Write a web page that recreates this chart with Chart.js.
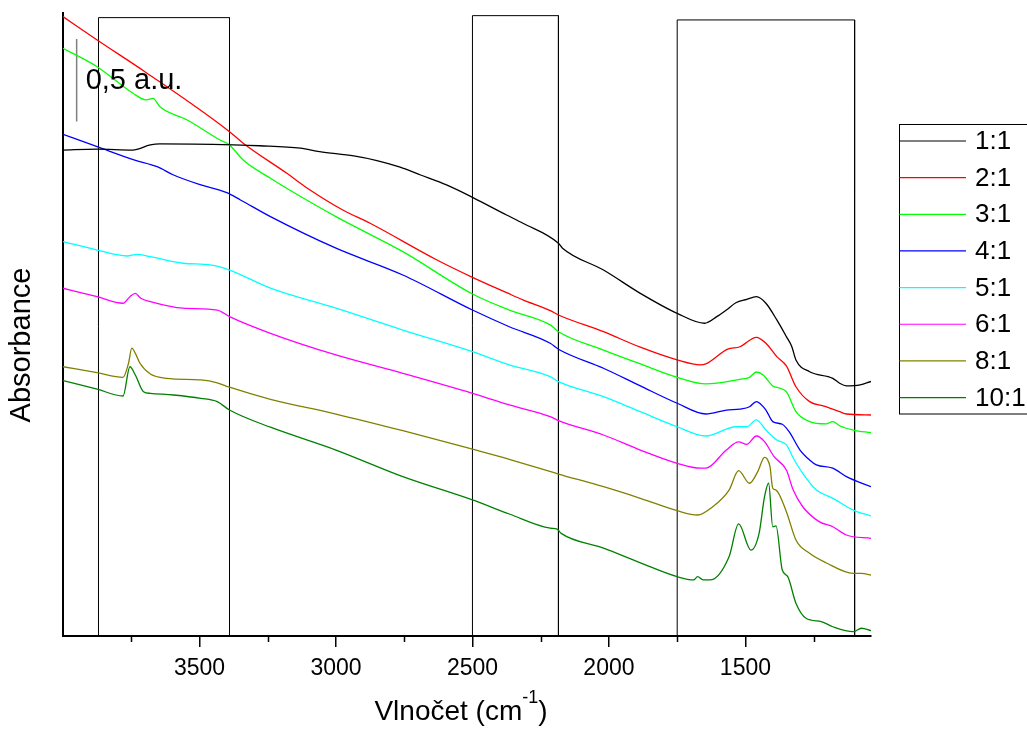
<!DOCTYPE html>
<html>
<head>
<meta charset="utf-8">
<title>IR spektra</title>
<script src="https://cdn.jsdelivr.net/npm/chart.js@4.4.0/dist/chart.umd.min.js"></script>
<style>
  html, body { margin: 0; padding: 0; background: #fff; }
</style>
</head>
<body>
<canvas id="irChart" width="1027" height="731"></canvas>
<script>
// wavenumbers (cm-1) and absorbance, one pair of arrays per sample
const wn_1_1 = [4000,3875,3745,3680,3645,3375,3280,3130,3060,2935,2850,2765,2690,2595,2500,2375,2315,2185,2170,2020,1885,1750,1650,1605,1570,1535,1495,1460,1425,1385,1350,1330,1315,1265,1180,1155,1130,1080,1040];
const abs_1_1 = [2.940,2.946,2.940,2.971,2.977,2.971,2.966,2.951,2.930,2.904,2.876,2.836,2.789,2.729,2.654,2.547,2.497,2.376,2.346,2.214,2.073,1.952,1.892,1.932,1.972,2.016,2.037,2.053,2.013,1.912,1.811,1.750,1.670,1.599,1.559,1.529,1.513,1.519,1.540];

const wn_2_1 = [4000,3875,3700,3390,3340,3180,3095,2975,2875,2630,2500,2375,2315,2215,2185,2020,1885,1750,1665,1645,1565,1520,1460,1425,1385,1350,1315,1265,1215,1155,1130,1040];
const abs_2_1 = [3.747,3.606,3.414,3.051,2.981,2.799,2.698,2.577,2.497,2.275,2.170,2.077,2.033,1.968,1.942,1.841,1.747,1.670,1.640,1.646,1.735,1.750,1.807,1.771,1.690,1.634,1.508,1.418,1.392,1.357,1.343,1.337];

const wn_3_1 = [4000,3875,3745,3695,3670,3645,3545,3425,3390,3340,3240,3170,3000,2755,2500,2365,2215,2185,2020,1885,1750,1645,1520,1485,1460,1435,1400,1375,1350,1315,1265,1205,1180,1155,1105,1040];
const abs_3_1 = [3.556,3.444,3.285,3.243,3.252,3.202,3.122,3.001,2.971,2.880,2.769,2.698,2.537,2.325,2.069,1.972,1.882,1.841,1.730,1.646,1.565,1.525,1.553,1.565,1.597,1.579,1.513,1.499,1.478,1.357,1.297,1.283,1.297,1.272,1.246,1.230];

const wn_4_1 = [4000,3875,3740,3655,3595,3495,3400,3350,3240,3000,2755,2500,2365,2215,2185,2020,1885,1750,1645,1570,1520,1485,1460,1425,1400,1365,1340,1300,1265,1240,1180,1130,1040];
const abs_4_1 = [3.035,2.960,2.880,2.839,2.789,2.729,2.682,2.638,2.537,2.346,2.184,1.972,1.871,1.771,1.735,1.620,1.513,1.408,1.343,1.367,1.373,1.387,1.418,1.367,1.297,1.281,1.236,1.125,1.065,1.035,1.015,0.964,0.903];

const wn_5_1 = [4000,3875,3765,3730,3680,3560,3460,3390,3240,3000,2755,2500,2365,2215,2185,2020,1885,1750,1645,1535,1495,1460,1425,1385,1350,1325,1290,1240,1180,1105,1040];
const abs_5_1 = [2.386,2.335,2.299,2.309,2.295,2.255,2.245,2.214,2.104,1.983,1.851,1.720,1.640,1.569,1.539,1.448,1.357,1.266,1.210,1.266,1.266,1.307,1.246,1.186,1.156,1.077,0.984,0.883,0.833,0.762,0.726];

const wn_6_1 = [4000,3875,3780,3755,3735,3715,3680,3560,3435,3390,3240,3000,2755,2500,2365,2215,2185,2020,1885,1750,1665,1645,1570,1525,1495,1460,1430,1395,1350,1325,1290,1230,1180,1130,1040];
const abs_6_1 = [2.104,2.053,2.013,2.053,2.073,2.043,2.023,1.983,1.972,1.932,1.831,1.700,1.589,1.468,1.398,1.327,1.303,1.216,1.125,1.045,1.015,1.015,1.125,1.174,1.159,1.210,1.176,1.085,1.004,0.883,0.782,0.692,0.661,0.611,0.591];

const wn_8_1 = [4000,3875,3780,3760,3748,3735,3718,3680,3620,3495,3435,3390,3240,3000,2755,2500,2365,2185,2020,1885,1750,1675,1620,1560,1525,1485,1455,1430,1420,1410,1400,1388,1350,1315,1265,1205,1105,1075,1040];
const abs_8_1 = [1.629,1.593,1.565,1.650,1.741,1.710,1.650,1.585,1.559,1.549,1.532,1.505,1.432,1.343,1.242,1.130,1.069,0.980,0.903,0.833,0.758,0.732,0.782,0.883,1.000,0.924,0.994,1.081,1.070,1.024,0.894,0.883,0.752,0.581,0.500,0.443,0.379,0.379,0.369];

const wn_10_1 = [4000,3875,3780,3755,3735,3705,3680,3595,3495,3435,3390,3240,3000,2755,2500,2365,2215,2190,2175,2020,1885,1750,1690,1675,1655,1630,1560,1525,1480,1450,1430,1415,1400,1388,1365,1345,1315,1278,1222,1180,1105,1075,1040];
const abs_10_1 = [1.545,1.493,1.452,1.629,1.579,1.478,1.468,1.458,1.438,1.418,1.367,1.263,1.125,0.964,0.823,0.738,0.652,0.646,0.621,0.531,0.443,0.359,0.339,0.359,0.339,0.339,0.480,0.678,0.520,0.621,0.843,0.924,0.661,0.666,0.399,0.359,0.198,0.107,0.087,0.056,0.026,0.047,0.032];

const seriesLabels = ['1:1', '2:1', '3:1', '4:1', '5:1', '6:1', '8:1', '10:1'];
const seriesColors = ['#000000', '#ff0000', '#00ff00', '#0000ff', '#00ffff', '#ff00ff', '#808000', '#008000'];
const seriesWn = [wn_1_1, wn_2_1, wn_3_1, wn_4_1, wn_5_1, wn_6_1, wn_8_1, wn_10_1];
const seriesAbs = [abs_1_1, abs_2_1, abs_3_1, abs_4_1, abs_5_1, abs_6_1, abs_8_1, abs_10_1];

// marked regions (cm-1) and the height of their frames
const boxRanges = [[3870, 3390], [2500, 2185], [1750, 1100]];
const boxTops = [3.741, 3.753, 3.727];

// 0,5 a.u. scale bar
const scaleBarWn = 3950;
const scaleBarAbs = [3.612, 3.112];
const scaleBarText = '0,5 a.u.';

const majorTicks = [3500, 3000, 2500, 2000, 1500];
const minorTicks = [3750, 3250, 2750, 2250, 1750, 1250];

const FONT = "'Liberation Sans', Arial, sans-serif";
Chart.defaults.font.family = FONT;
Chart.defaults.color = '#000';

const datasets = seriesLabels.map((label, i) => ({
    label: label,
    data: seriesWn[i].map((w, j) => ({ x: w, y: seriesAbs[i][j] })),
    borderColor: seriesColors[i],
    borderWidth: 1.3,
    pointRadius: 0,
    cubicInterpolationMode: 'monotone',
    isSpectrum: true
}));

boxRanges.forEach((r, i) => {
    datasets.push({
        label: 'box' + i,
        data: [{ x: r[0], y: 0 }, { x: r[0], y: boxTops[i] }, { x: r[1], y: boxTops[i] }, { x: r[1], y: 0 }],
        borderColor: '#000',
        borderWidth: 1,
        pointRadius: 0,
        tension: 0
    });
});

datasets.push({
    label: 'scalebar',
    data: [{ x: scaleBarWn, y: scaleBarAbs[0] }, { x: scaleBarWn, y: scaleBarAbs[1] }],
    borderColor: '#808080',
    borderWidth: 1.5,
    pointRadius: 0
});

const extras = {
    id: 'extras',
    afterDraw(chart) {
        const ctx = chart.ctx;
        const x = chart.scales.x;
        const y = chart.scales.y;
        ctx.save();

        // minor ticks
        ctx.strokeStyle = '#000';
        ctx.lineWidth = 1.5;
        minorTicks.forEach(v => {
            const px = Math.round(x.getPixelForValue(v)) + 0.5;
            ctx.beginPath();
            ctx.moveTo(px, y.bottom);
            ctx.lineTo(px, y.bottom + 6);
            ctx.stroke();
        });

        ctx.fillStyle = '#000';

        // scale bar label
        ctx.font = '29px ' + FONT;
        ctx.textAlign = 'left';
        ctx.textBaseline = 'middle';
        ctx.fillText(scaleBarText, x.getPixelForValue(3917), y.getPixelForValue(3.358));

        // y title
        ctx.save();
        ctx.translate(22, 345);
        ctx.rotate(-Math.PI / 2);
        ctx.textAlign = 'center';
        ctx.font = '29px ' + FONT;
        ctx.fillText('Absorbance', 0, 0);
        ctx.restore();

        // x title with superscript
        const main = 'Vlnočet (cm';
        const sup = '-1';
        const close = ')';
        ctx.textBaseline = 'alphabetic';
        ctx.font = '28px ' + FONT;
        const wMain = ctx.measureText(main).width;
        const wClose = ctx.measureText(close).width;
        ctx.font = '18px ' + FONT;
        const wSup = ctx.measureText(sup).width;
        let tx = 461 - (wMain + wSup + wClose) / 2;
        ctx.font = '28px ' + FONT;
        ctx.fillText(main, tx, 720);
        tx += wMain;
        ctx.font = '18px ' + FONT;
        ctx.fillText(sup, tx, 703);
        tx += wSup;
        ctx.font = '28px ' + FONT;
        ctx.fillText(close, tx, 720);

        // legend
        const lx = 899.5, ly = 124.5, lh = 289.5;
        ctx.lineWidth = 1;
        ctx.strokeStyle = '#000';
        ctx.strokeRect(lx, ly, 140, lh);
        ctx.font = '26px ' + FONT;
        ctx.textBaseline = 'middle';
        chart.data.datasets.filter(d => d.isSpectrum).forEach((d, i) => {
            const ey = 141 + i * 36.65;
            ctx.strokeStyle = d.borderColor;
            ctx.lineWidth = 1.2;
            ctx.beginPath();
            ctx.moveTo(lx, ey);
            ctx.lineTo(966, ey);
            ctx.stroke();
            ctx.fillText(d.label, 975, ey + 1);
        });

        ctx.restore();
    }
};

new Chart(document.getElementById('irChart').getContext('2d'), {
    type: 'line',
    data: { datasets: datasets },
    options: {
        responsive: false,
        animation: false,
        layout: { padding: { top: 13, right: 156, bottom: 0, left: 0 } },
        plugins: {
            legend: { display: false },
            tooltip: { enabled: false }
        },
        scales: {
            x: {
                type: 'linear',
                reverse: true,
                min: 1040,
                max: 4000,
                afterBuildTicks: s => { s.ticks = majorTicks.map(v => ({ value: v })); },
                afterFit: s => { s.height = 95; },
                ticks: {
                    font: { size: 23 },
                    color: '#000',
                    padding: 8,
                    maxRotation: 0,
                    callback: v => String(v)
                },
                grid: {
                    drawOnChartArea: false,
                    drawTicks: true,
                    tickLength: 11,
                    color: '#000',
                    lineWidth: 1.5
                },
                border: { display: true, color: '#000', width: 2 }
            },
            y: {
                type: 'linear',
                min: 0,
                max: 3.769,
                afterFit: s => { s.width = 63; },
                ticks: { display: false },
                grid: { display: false },
                border: { display: true, color: '#000', width: 2 }
            }
        }
    },
    plugins: [extras]
});
</script>
</body>
</html>
